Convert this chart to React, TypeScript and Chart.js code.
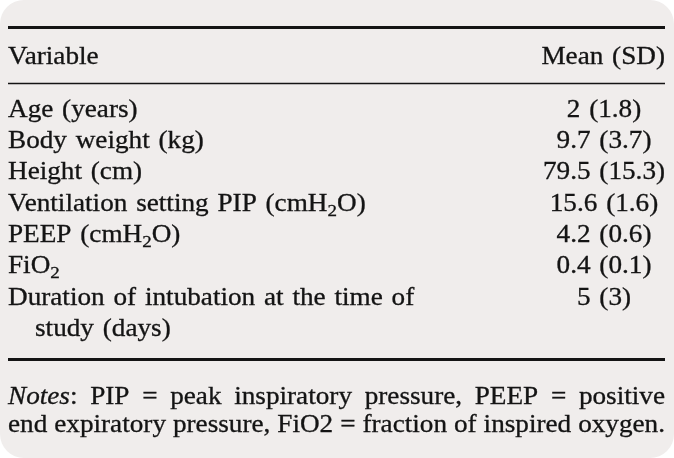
import { useEffect, useRef } from "react";
import { Chart, registerables } from "chart.js";
Chart.register(...registerables);

// ---- data ----
const headerLabel = "Variable";
const headerValue = "Mean (SD)";
const variables = [
  "Age (years)",
  "Body weight (kg)",
  "Height (cm)",
  "Ventilation setting PIP (cmH_2O)",
  "PEEP (cmH_2O)",
  "FiO_2",
  "Duration of intubation at the time of|study (days)",
];
const means = [2, 9.7, 79.5, 15.6, 4.2, 0.4, 5];
const sds = [1.8, 3.7, 15.3, 1.6, 0.6, 0.1, 3];
const noteLines = [
  ["*Notes*:", "PIP", "=", "peak", "inspiratory", "pressure,", "PEEP", "=", "positive"],
  ["end", "expiratory", "pressure,", "FiO2", "=", "fraction", "of", "inspired", "oxygen."],
];

// ---- layout ----
const W = 674;
const H = 458;
const LEFT = 8;
const RIGHT = 665;
const VAL_CENTER = 604;
const ROW_PITCH = 31.35;
const FIRST_BASELINE = 116.6;
const HEADER_BASELINE = 64;
const NOTE_BASELINES = [404, 432];
const WRAP_INDENT = 27;
const FONT_SIZE = 24.5;
const SX = 1.11;
const EXTRA_SPACE = 2;
const FAMILY = "'Liberation Serif', 'Times New Roman', 'DejaVu Serif', serif";
const TEXT = "#141414";
const BG = "#f0edec";

type Seg = { t: string; sub?: boolean; it?: boolean };
function parse(s: string): Seg[] {
  const out: Seg[] = [];
  const re = /(_\d|\*[^*]+\*| )/g;
  let last = 0;
  let m: RegExpExecArray | null;
  while ((m = re.exec(s))) {
    if (m.index > last) out.push({ t: s.slice(last, m.index) });
    const tok = m[0];
    if (tok === " ") out.push({ t: " " });
    else if (tok[0] === "_") out.push({ t: tok.slice(1), sub: true });
    else out.push({ t: tok.slice(1, -1), it: true });
    last = m.index + tok.length;
  }
  if (last < s.length) out.push({ t: s.slice(last) });
  return out;
}
function setFont(ctx: CanvasRenderingContext2D, seg: Seg) {
  const size = seg.sub ? FONT_SIZE * 0.7 : FONT_SIZE;
  ctx.font = `${seg.it ? "italic " : ""}${size}px ${FAMILY}`;
}
function segWidth(ctx: CanvasRenderingContext2D, seg: Seg) {
  setFont(ctx, seg);
  return ctx.measureText(seg.t).width * SX + (seg.t === " " ? EXTRA_SPACE : 0);
}
function measure(ctx: CanvasRenderingContext2D, s: string) {
  let w = 0;
  for (const seg of parse(s)) w += segWidth(ctx, seg);
  return w;
}
function drawRich(ctx: CanvasRenderingContext2D, s: string, x: number, y: number, align: "left" | "center" | "right") {
  const w = measure(ctx, s);
  let cx = align === "left" ? x : align === "center" ? x - w / 2 : x - w;
  ctx.textAlign = "left";
  ctx.textBaseline = "alphabetic";
  for (const seg of parse(s)) {
    const sw = segWidth(ctx, seg);
    if (seg.t !== " ") {
      ctx.save();
      ctx.translate(cx, y + (seg.sub ? 5 : 0));
      ctx.scale(SX, 1);
      ctx.fillText(seg.t, 0, 0);
      ctx.lineWidth = 0.3;
      ctx.strokeText(seg.t, 0, 0);
      ctx.restore();
    }
    cx += sw;
  }
}
function drawJustified(ctx: CanvasRenderingContext2D, words: string[], y: number) {
  const widths = words.map((w) => measure(ctx, w));
  const total = widths.reduce((a, b) => a + b, 0);
  const gap = (RIGHT - LEFT - total) / (words.length - 1);
  let x = LEFT;
  words.forEach((w, i) => {
    drawRich(ctx, w, x, y, "left");
    x += widths[i] + gap;
  });
}

const tablePlugin = {
  id: "tablePlugin",
  beforeDraw(chart: any) {
    const ctx: CanvasRenderingContext2D = chart.ctx;
    ctx.save();
    ctx.fillStyle = "#ffffff";
    ctx.fillRect(0, 0, W, H);
    ctx.fillStyle = BG;
    ctx.beginPath();
    (ctx as any).roundRect(0, 0, W, H, 24);
    ctx.fill();
    ctx.restore();
  },
  afterDatasetsDraw(chart: any) {
    const ctx: CanvasRenderingContext2D = chart.ctx;
    ctx.save();
    ctx.fillStyle = TEXT;
    ctx.strokeStyle = TEXT;
    const rule = (y: number, lw: number) => {
      ctx.lineWidth = lw;
      ctx.beginPath();
      ctx.moveTo(LEFT, y);
      ctx.lineTo(RIGHT, y);
      ctx.stroke();
    };
    rule(27.5, 2.8);
    rule(83.5, 1.3);
    rule(359.5, 2.8);
    drawRich(ctx, headerLabel, LEFT, HEADER_BASELINE, "left");
    drawRich(ctx, headerValue, RIGHT, HEADER_BASELINE, "right");
    const labelMeta = chart.getDatasetMeta(0);
    labelMeta.data.forEach((pt: any, i: number) => {
      const lines = variables[i].split("|");
      lines.forEach((ln, k) => {
        drawRich(ctx, ln, pt.x + (k > 0 ? WRAP_INDENT : 0), pt.y + k * ROW_PITCH, "left");
      });
    });
    const valMeta = chart.getDatasetMeta(1);
    valMeta.data.forEach((pt: any, i: number) => {
      drawRich(ctx, `${means[i]} (${sds[i]})`, pt.x, pt.y, "center");
    });
    noteLines.forEach((words, i) => drawJustified(ctx, words, NOTE_BASELINES[i]));
    ctx.restore();
  },
};

export default function App() {
  const ref = useRef<HTMLCanvasElement | null>(null);
  useEffect(() => {
    if (!ref.current) return;
    let chart: Chart | null = null;
    let cancelled = false;
    const build = () => {
      if (cancelled || !ref.current) return;
      const xPerUnit = VAL_CENTER - LEFT;
      const xMin = -LEFT / xPerUnit;
      const yMin = -FIRST_BASELINE / ROW_PITCH;
      chart = new Chart(ref.current, {
        type: "scatter",
        data: {
          datasets: [
            { label: headerLabel, data: variables.map((_, i) => ({ x: 0, y: i })), pointRadius: 0 },
            { label: headerValue, data: means.map((_, i) => ({ x: 1, y: i })), pointRadius: 0 },
          ],
        },
        options: {
          responsive: false,
          animation: false,
          layout: { padding: 0 },
          plugins: { legend: { display: false }, tooltip: { enabled: false } },
          events: [],
          scales: {
            x: { type: "linear", display: false, min: xMin, max: xMin + W / xPerUnit },
            y: { type: "linear", display: false, reverse: true, min: yMin, max: yMin + H / ROW_PITCH },
          },
        },
        plugins: [tablePlugin],
      });
    };
    const fonts: any = (document as any).fonts;
    if (fonts && fonts.load) {
      Promise.all([
        fonts.load(`${FONT_SIZE}px 'Liberation Serif'`),
        fonts.load(`italic ${FONT_SIZE}px 'Liberation Serif'`),
      ]).then(build, build);
    } else build();
    return () => {
      cancelled = true;
      if (chart) chart.destroy();
    };
  }, []);
  return (
    <div style={{ position: "fixed", left: 0, top: 0, width: W, height: H, fontFamily: "'Liberation Serif', serif" }}>
      <canvas ref={ref} width={W} height={H} style={{ width: W, height: H, display: "block" }} />
    </div>
  );
}
